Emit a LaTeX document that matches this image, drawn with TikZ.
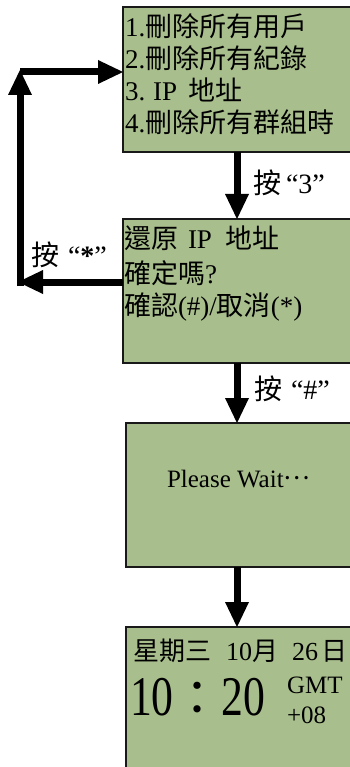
\documentclass[tikz,border=0pt]{standalone}
\usepackage{fontspec}
\setmainfont{Liberation Serif}
\newfontfamily\cjkfont{Noto Sans CJK TC}
\newfontfamily\narrowserif[FakeStretch=0.78]{Liberation Serif}
\usetikzlibrary{arrows.meta}
\definecolor{lcd}{RGB}{168,190,140}
\newcommand{\zh}[1]{{\cjkfont #1}}
\begin{document}
\begin{tikzpicture}[x=1pt,y=-1pt,
  lcdbox/.style={draw=black!90, line width=2pt, fill=lcd, outer sep=0pt, inner sep=0pt, anchor=north west},
  txt/.style={anchor=base west, inner sep=0pt, outer sep=0pt, font=\fontsize{27pt}{32pt}\selectfont},
  small/.style={font=\fontsize{25pt}{30pt}\selectfont},
  mid/.style={font=\fontsize{26pt}{30pt}\selectfont},
  keylbl/.style={font=\fontsize{28pt}{32pt}\selectfont},
  flow/.style={line width=7pt, -{Triangle[length=25pt,width=24pt,line width=0pt]}}
]
\useasboundingbox (0,0) rectangle (350,767);
\clip (0,0) rectangle (350,767);
% screens
\node[lcdbox, minimum width=240pt, minimum height=145pt] (b1) at (123,7) {};
\node[lcdbox, minimum width=240pt, minimum height=144pt] (b2) at (123,219) {};
\node[lcdbox, minimum width=237pt, minimum height=144pt] (b3) at (126,423) {};
\node[lcdbox, minimum width=237pt, minimum height=160pt] (b4) at (126,627) {};
% texts
\node[txt] (t11) at (125,37) {1.\zh{刪除所有用戶}};
\node[txt] (t12) at (125,69) {2.\zh{刪除所有紀錄}};
\node[txt] (t13) at (125,101) {3.\hspace{8pt}IP\hspace{11pt}\zh{地址}};
\node[txt] (t14) at (125,133) {4.\zh{刪除所有群組時}};
\node[txt] (t21) at (124,248) {\zh{還原}\hspace{10pt}IP\hspace{13pt}\zh{地址}};
\node[txt] (t22) at (124,283) {\zh{確定嗎}?};
\node[txt] (t23) at (124,315) {\zh{確認}(\#)/\zh{取消}(*)};
\node[txt, small] (t3) at (167,487) {Please Wait\raisebox{8pt}{\zh{…}}};
\node[txt, mid] (t41) at (133,660) {\zh{星期三}\hspace{15pt}10\zh{月}\hspace{14pt}26\hspace{3pt}\zh{日}};
\node[txt, font=\fontsize{56pt}{60pt}\selectfont] (t42) at (130,715) {{\narrowserif 10}{\fontsize{48pt}{50pt}\selectfont\zh{：}}{\narrowserif 20}};
\node[txt, small] (t43) at (287,693) {GMT};
\node[txt, small] (t44) at (287,723) {+08};
% key labels
\node[txt, keylbl] (k3) at (253,194) {\zh{按}\hspace{5pt}“3”};
\node[txt, keylbl] (kh) at (254,399) {\zh{按}\hspace{9pt}“\#”};
\node[txt, keylbl] (ks) at (31,265) {\zh{按}\hspace{9pt}“\textbf{*}”};
% arrows
\coordinate (ax) at (237,0);
\draw[flow] (b1.south -| ax) -- (b2.north -| ax);
\draw[flow] (b2.south -| ax) -- (b3.north -| ax);
\draw[flow] (b3.south -| ax) -- (b4.north -| ax);
\coordinate (l1) at (18,282);
\coordinate (l2b) at (20,286);
\coordinate (l2) at (20,70);
\coordinate (l3) at (20,72);
\draw[flow] (b2.west |- l1) -- (l1);
\draw[flow] (l2b) -- (l2);
\draw[flow] (l3) -- (b1.west |- l3);
\end{tikzpicture}
\end{document}
